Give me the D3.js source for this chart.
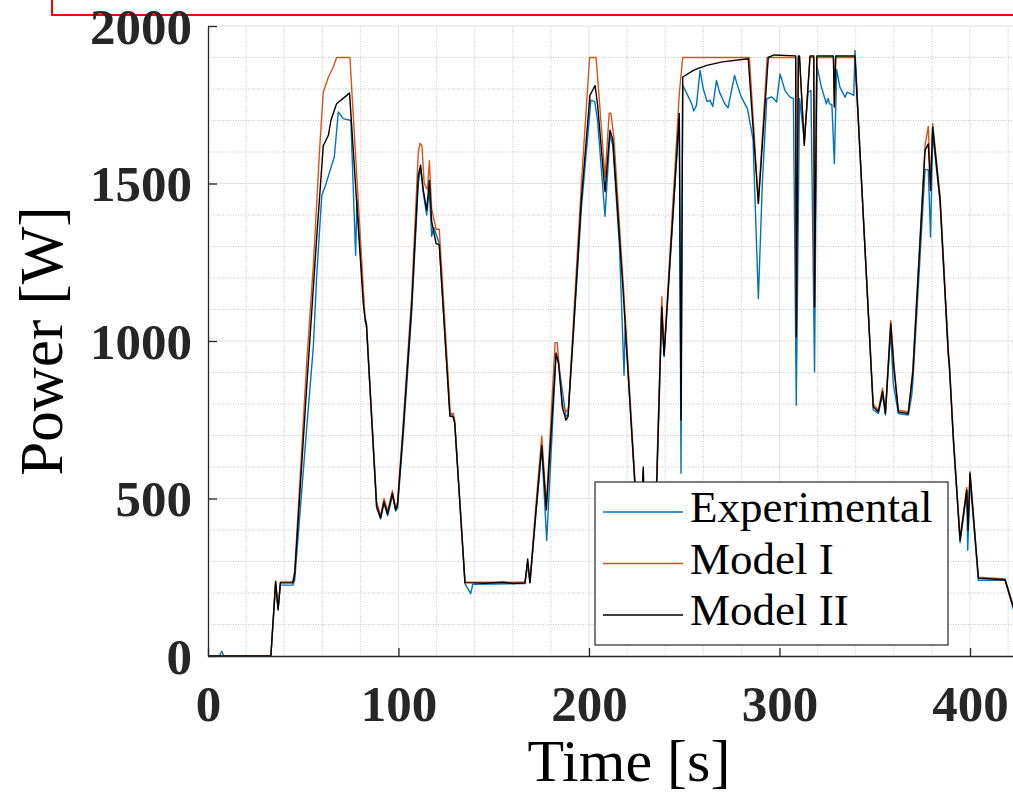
<!DOCTYPE html>
<html>
<head>
<meta charset="utf-8">
<script src="https://cdn.jsdelivr.net/npm/d3@7"></script>
<style>
  body { margin: 0; background: #fff; }
  svg { display: block; }
</style>
</head>
<body>
<svg id="chart" width="1013" height="795"></svg>
<script>
// series data (time in s, power in W)
const expT = [0,6,7.2,8.4,33,35.5,36.8,38,44.5,45.5,51.8,55.3,57,59.7,62,64,66.3,68.4,71,75,77.5,78.2,82.4,83.2,88.5,90.6,92.4,94.3,96.8,98.5,99.5,102.5,106.9,110.4,111.6,113,114.8,116.2,117.4,118.5,121.4,127,128.6,129.5,134.9,137.9,139,166.4,167.8,169,172,175.2,177.8,182.7,184,187.9,189,192,196,201,203,204.5,208.4,211,212.5,216,218.4,219,224,227,228.5,229,232,235.2,238.2,239.4,247.4,248.3,249.2,251,253.9,255,256.4,258.3,260,262,263.5,265,266.9,268.5,271.2,273,276.4,278,279.9,283.2,286.1,288.9,291,293.3,296,298.5,300.3,302.9,305.5,307.3,308.8,310.5,313,315,316.5,318.4,319.6,322,324.6,325.5,326.3,327.5,328.8,330,331.7,334.4,335.5,337.8,339,339.6,349.2,351.9,354.1,355.6,358.4,359.7,362.4,367.6,369.4,370,376.4,378.1,379.3,380.4,384.3,388.6,389.2,391.3,394.8,398.3,398.8,400,404.4,418.4,422.7,428];
const expP = [0,0,15,0,0,225,150,225,225,240,723,982,1200,1461,1500,1540,1584,1727,1706,1700,1272,1450,1065,1045,470,435,485,445,510,460,470,700,1090,1500,1550,1470,1400,1480,1332,1360,1310,765,765,740,230,198,228,230,290,232,440,660,367,956,930,761,765,1040,1420,1765,1760,1700,1396,1655,1620,1300,891,1050,555,370,590,370,320,470,1090,950,1710,580,1812,1790,1753,1730,1748,1859,1800,1760,1764,1745,1827,1790,1754,1740,1843,1810,1775,1737,1640,1135,1500,1769,1775,1759,1848,1795,1774,1770,796,1770,1640,1790,1795,902,1875,1806,1753,1770,1753,1750,1563,1862,1806,1774,1790,1784,1780,1922,781,770,830,765,1034,865,770,765,828,870,1544,1544,1330,1660,1440,955,915,680,360,520,336,560,240,240,150,60];

const model1T = [0,33,35.5,36.8,38,44.5,45.5,51.8,55.3,58.5,60.5,63.2,65.8,67.5,74.5,82.4,83.2,88.5,90.6,92.4,94.3,96.8,98.5,99.5,102.5,106.9,110.4,111.3,112.3,113.5,115.2,116.2,117.4,119.7,121.4,127.2,128.8,129.5,134.9,166.4,167.8,169,172,175.2,177.6,182.2,183.3,186,187.9,189.2,192,196,200.3,203.7,205,208.4,210.6,211.5,213,218,224,227,228.5,229,232,235.2,238.2,239.4,247.4,249.2,284.2,288.9,293.5,308.5,308.8,309.9,310.5,313,316,318,318.4,319.6,328.3,328.8,329.5,339.6,349.2,351.9,354.1,355.6,358.4,360,362.4,367.6,370,376.4,378.1,379.3,380.4,384.3,388.6,389.2,391.3,394.8,398.3,399,400,404.4,418.4,422.7,428];
const model1P = [0,0,238,150,235,235,270,930,1240,1600,1790,1838,1870,1900,1900,1075,1055,490,445,500,460,525,470,490,740,1140,1600,1628,1620,1500,1480,1572,1420,1355,1355,770,770,750,235,234,300,235,470,698,480,995,995,800,775,785,1080,1500,1900,1900,1800,1520,1723,1723,1650,1180,570,390,590,390,340,500,1140,960,1785,1900,1900,1440,1900,1900,1013,1900,1900,1625,1900,1900,1110,1900,1900,1750,1900,1900,800,780,850,775,1065,930,780,775,910,1620,1681,1500,1690,1460,975,930,695,375,535,410,585,250,245,160,60];

const model2T = [0,33,35.5,36.8,38,44.5,45.5,51.8,57.1,60.5,63.2,64.5,67.5,74.3,81.5,82.4,83.2,88.5,90.6,92.4,94.3,96.8,98.5,99.5,102.5,106.9,110.4,111.6,113,114.8,116.2,117.4,119.7,121.4,127,128.6,129.5,134.9,140,145,155,160,166.4,167.8,169,172,175.2,177.6,182.7,184,186,187.9,189,192,196,200.5,203.2,204.5,208.4,211,212.5,218,224,227,228.5,229,232,235.2,238.2,239.4,247.4,248.3,249.2,255,261.8,270,283.6,288.9,294.1,297,308.5,308.8,309.9,310.5,313,316,318,318.4,319.6,328.3,328.8,329.5,339.6,349.2,351.9,354.1,355.6,358.4,360,362.4,367.6,370,376.4,378.1,379.3,380.4,384.3,388.6,389.2,391.3,394.8,398.3,399,400,404.4,418.4,422.7,428];
const model2P = [0,0,236,146,232,232,260,853,1332,1620,1653,1700,1753,1787,1120,1075,1050,477,438,490,451,516,464,480,723,1111,1526,1558,1480,1415,1510,1380,1310,1305,761,760,740,233,232,231,234,230,232,308,233,450,668,464,962,930,790,749,760,1050,1450,1780,1811,1750,1474,1669,1640,1150,555,380,600,380,330,480,1108,955,1722,749,1838,1860,1875,1886,1896,1436,1900,1908,1905,1013,1905,1905,1621,1905,1905,1108,1905,1905,1743,1905,1905,791,775,839,770,1055,918,775,770,900,1605,1626,1478,1679,1447,960,918,685,368,527,400,580,247,242,156,60];

const xTicks = [0, 100, 200, 300, 400];
const yTicks = [0, 500, 1000, 1500, 2000];
const seriesNames = ["Experimental", "Model I", "Model II"];
const seriesColors = ["#0072BD", "#D95319", "#000000"];

//SVG setup
const margin = {top: 26, left: 208},
      width = 440 * 1.905,
      height = 630;

const x = d3.scaleLinear().domain([0, 440]).range([0, width]);
const y = d3.scaleLinear().domain([0, 2000]).range([height, 0]);

const svg = d3.select("#chart");

// red annotation box at the top
svg.append("rect")
    .attr("x", 52).attr("y", -10)
    .attr("width", 1000).attr("height", 25)
    .attr("fill", "none")
    .attr("stroke", "#ff0000")
    .attr("stroke-width", 2);

const g = svg.append("g")
    .attr("transform", `translate(${margin.left}, ${margin.top})`);

//grid: minor dotted, major solid
const grid = g.append("g").attr("class", "grid");
grid.selectAll(".vminor")
  .data(d3.range(20, 441, 20).filter(d => d % 100 != 0))
  .enter().append("line")
    .attr("x1", d => x(d)).attr("x2", d => x(d))
    .attr("y1", 0).attr("y2", height)
    .attr("stroke", "#c8c8c8").attr("stroke-dasharray", "1,1.5");
grid.selectAll(".hminor")
  .data(d3.range(100, 2001, 100).filter(d => d % 500 != 0))
  .enter().append("line")
    .attr("x1", 0).attr("x2", width)
    .attr("y1", d => y(d)).attr("y2", d => y(d))
    .attr("stroke", "#c8c8c8").attr("stroke-dasharray", "1,1.5");
grid.selectAll(".vmajor")
  .data(xTicks.slice(1))
  .enter().append("line")
    .attr("x1", d => x(d)).attr("x2", d => x(d))
    .attr("y1", 0).attr("y2", height)
    .attr("stroke", "#e3e3e3");
grid.selectAll(".hmajor")
  .data(yTicks.slice(1))
  .enter().append("line")
    .attr("x1", 0).attr("x2", width)
    .attr("y1", d => y(d)).attr("y2", d => y(d))
    .attr("stroke", "#e3e3e3");

//lines
const series = [
  {t: expT, p: expP},
  {t: model1T, p: model1P},
  {t: model2T, p: model2P}
];
const line = d3.line()
    .x(d => x(d[0]))
    .y(d => y(d[1]));

g.append("clipPath").attr("id", "plotclip")
  .append("rect").attr("width", width).attr("height", height + 1);

series.forEach((s, i) => {
  g.append("path")
    .datum(s.t.map((t, k) => [t, s.p[k]]))
    .attr("clip-path", "url(#plotclip)")
    .attr("fill", "none")
    .attr("stroke", seriesColors[i])
    .attr("stroke-width", 1.4)
    .attr("stroke-linejoin", "round")
    .attr("d", line);
});

//axes
const axisColor = "#262626";
const yAxis = g.append("g")
    .call(d3.axisLeft(y).tickValues(yTicks).tickFormat(d3.format("d"))
      .tickSize(-9).tickSizeOuter(0).tickPadding(16));
const xAxis = g.append("g")
    .attr("transform", "translate(0," + height + ")")
    .call(d3.axisBottom(x).tickValues(xTicks).tickFormat(d3.format("d"))
      .tickSize(-8).tickSizeOuter(0).tickPadding(29));

[xAxis, yAxis].forEach(a => {
  a.select(".domain").attr("stroke", axisColor).attr("stroke-width", 1.3);
  a.selectAll(".tick line").attr("stroke", axisColor).attr("stroke-width", 1.3);
  a.selectAll(".tick text")
    .attr("fill", axisColor)
    .style("font-family", "'Liberation Serif', 'Times New Roman', serif")
    .style("font-weight", "bold")
    .style("font-size", "51px");
});
yAxis.selectAll(".tick text").attr("dy", "0.34em");

//axis labels
g.append("text")
    .attr("x", 629 - margin.left)
    .attr("y", 781 - margin.top)
    .attr("text-anchor", "middle")
    .style("font-family", "'Liberation Serif', 'Times New Roman', serif")
    .style("font-size", "60px")
    .attr("fill", "#000")
    .text("Time [s]");

g.append("text")
    .attr("transform", `translate(${62 - margin.left}, ${height / 2}) rotate(-90)`)
    .attr("text-anchor", "middle")
    .style("font-family", "'Liberation Serif', 'Times New Roman', serif")
    .style("font-size", "61px")
    .attr("fill", "#000")
    .text("Power [W]");

//legend
const legend = svg.append("g").attr("transform", "translate(595, 482)");
legend.append("rect")
    .attr("width", 353).attr("height", 163)
    .attr("fill", "#fff")
    .attr("stroke", axisColor)
    .attr("stroke-width", 1.2);
seriesNames.forEach((name, i) => {
  const row = legend.append("g").attr("transform", `translate(0, ${30 + i * 51.5})`);
  row.append("line")
    .attr("x1", 8).attr("x2", 88)
    .attr("stroke", seriesColors[i])
    .attr("stroke-width", 1.4);
  row.append("text")
    .attr("x", 95).attr("y", 10)
    .style("font-family", "'Liberation Serif', 'Times New Roman', serif")
    .style("font-size", "45px")
    .attr("fill", "#000")
    .text(name);
});
</script>
</body>
</html>
